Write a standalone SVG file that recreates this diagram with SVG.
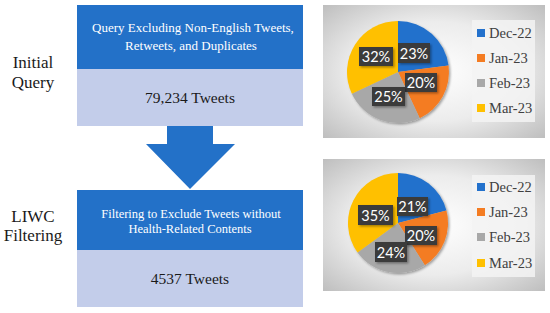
<svg xmlns="http://www.w3.org/2000/svg" width="550" height="313" viewBox="0 0 550 313">
<defs>
<radialGradient id="bg" cx="0.5" cy="0.5" r="0.75">
<stop offset="0" stop-color="#ffffff"/>
<stop offset="0.5" stop-color="#ececec"/>
<stop offset="1" stop-color="#b8b8b8"/>
</radialGradient>
<filter id="sh" x="-20%" y="-20%" width="150%" height="150%">
<feDropShadow dx="1.5" dy="1.5" stdDeviation="1.2" flood-color="#000" flood-opacity="0.35"/>
</filter>
</defs>
<style>
.dark{fill:#2371c8}
.light{fill:#c3cdea}
.wt{font-family:"Liberation Serif","DejaVu Serif",serif;fill:#ffffff;text-anchor:middle}
.bt{font-family:"Liberation Serif","DejaVu Serif",serif;fill:#1a1a1a;text-anchor:middle}
.side{font-family:"Liberation Serif","DejaVu Serif",serif;fill:#1a1a1a;text-anchor:middle;font-size:17px}
.panel{fill:url(#bg)}
.leg{fill:#f3f3f3;opacity:0.85}
.lt{font-family:"Liberation Serif","DejaVu Serif",serif;fill:#404040;font-size:14.5px}
.lbl{fill:#3b3b3b;filter:url(#sh)}
.pt{font-family:"Lato","Liberation Sans",sans-serif;fill:#ffffff;font-size:14.5px;text-anchor:middle}
.c1{fill:#2371cc}.c2{fill:#f47c22}.c3{fill:#a8a8a8}.c4{fill:#ffc000}
</style>

<g id="label-initial">
<text class="side" x="33" y="68">Initial</text>
<text class="side" x="33" y="88">Query</text>
</g>
<g id="label-liwc">
<text class="side" x="33" y="222">LIWC</text>
<text class="side" x="33" y="241">Filtering</text>
</g>

<g id="box-query">
<rect class="dark" x="77" y="5" width="226" height="64"/>
<rect class="light" x="77" y="69" width="226" height="57"/>
<text class="wt" x="193" y="32" font-size="13">Query Excluding Non-English Tweets,</text>
<text class="wt" x="191" y="50" font-size="13">Retweets, and Duplicates</text>
<text class="bt" x="190" y="103" font-size="15.5">79,234 Tweets</text>
</g>

<g id="connectors">
<polygon class="dark" points="167,126 213,126 213,144 235,144 190,189 146,144 167,144"/>
</g>

<g id="box-liwc">
<rect class="dark" x="77" y="190" width="226" height="60"/>
<rect class="light" x="77" y="250" width="226" height="57"/>
<text class="wt" x="191" y="218" font-size="12.5">Filtering to Exclude Tweets without</text>
<text class="wt" x="190" y="233" font-size="12.5">Health-Related Contents</text>
<text class="bt" x="190" y="284" font-size="15.5">4537 Tweets</text>
</g>

<g id="chart-initial">
<rect class="panel" x="323" y="5" width="222" height="133"/>
<g filter="url(#sh)">
<path class="c1" d="M398,72 L398,21 A51,51 0 0 1 448.60,65.61 Z"/>
<path class="c2" d="M398,72 L448.60,65.61 A51,51 0 0 1 419.71,118.15 Z"/>
<path class="c3" d="M398,72 L419.71,118.15 A51,51 0 0 1 351.85,93.71 Z"/>
<path class="c4" d="M398,72 L351.85,93.71 A51,51 0 0 1 398,21 Z"/>
</g>
<rect class="lbl" x="398" y="43" width="32" height="20"/>
<text class="pt" x="414" y="59">23%</text>
<rect class="lbl" x="359" y="47" width="34" height="19"/>
<text class="pt" x="376" y="62">32%</text>
<rect class="lbl" x="405" y="73" width="32" height="19"/>
<text class="pt" x="421" y="88">20%</text>
<rect class="lbl" x="372" y="87" width="33" height="19"/>
<text class="pt" x="388.5" y="102">25%</text>
<rect class="leg" x="472" y="20" width="63" height="102"/>
<rect class="c1" x="477" y="29" width="8" height="8"/>
<text class="lt" x="489" y="38">Dec-22</text>
<rect class="c2" x="477" y="54" width="8" height="8"/>
<text class="lt" x="489" y="63">Jan-23</text>
<rect class="c3" x="477" y="79" width="8" height="8"/>
<text class="lt" x="489" y="88">Feb-23</text>
<rect class="c4" x="477" y="104" width="8" height="8"/>
<text class="lt" x="489" y="113">Mar-23</text>
</g>

<g id="chart-liwc">
<rect class="panel" x="323" y="159" width="222" height="132"/>
<g filter="url(#sh)">
<path class="c1" d="M398,223 L398,173 A50,50 0 0 1 446.43,210.57 Z"/>
<path class="c2" d="M398,223 L446.43,210.57 A50,50 0 0 1 424.79,265.22 Z"/>
<path class="c3" d="M398,223 L424.79,265.22 A50,50 0 0 1 357.55,252.39 Z"/>
<path class="c4" d="M398,223 L357.55,252.39 A50,50 0 0 1 398,173 Z"/>
</g>
<rect class="lbl" x="397" y="197" width="31" height="19"/>
<text class="pt" x="412.5" y="212">21%</text>
<rect class="lbl" x="358" y="205" width="35" height="20"/>
<text class="pt" x="375.5" y="221">35%</text>
<rect class="lbl" x="405" y="226" width="32" height="19"/>
<text class="pt" x="421" y="241">20%</text>
<rect class="lbl" x="375" y="242" width="32" height="20"/>
<text class="pt" x="391" y="258">24%</text>
<rect class="leg" x="472" y="175" width="63" height="102"/>
<rect class="c1" x="477" y="183" width="8" height="8"/>
<text class="lt" x="489" y="192">Dec-22</text>
<rect class="c2" x="477" y="208" width="8" height="8"/>
<text class="lt" x="489" y="217">Jan-23</text>
<rect class="c3" x="477" y="233" width="8" height="8"/>
<text class="lt" x="489" y="242">Feb-23</text>
<rect class="c4" x="477" y="259" width="8" height="8"/>
<text class="lt" x="489" y="268">Mar-23</text>
</g>
</svg>
